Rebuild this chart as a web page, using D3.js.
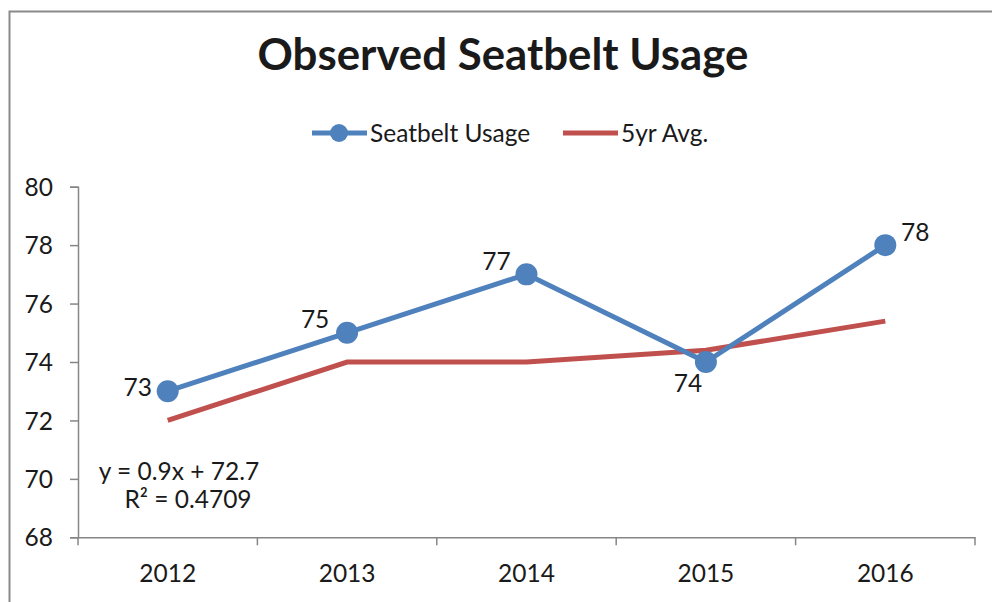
<!DOCTYPE html>
<html><head><meta charset="utf-8">
<script src="https://cdn.jsdelivr.net/npm/d3@7"></script>
<style>body{margin:0;background:#fff}svg{display:block}text{font-family:Lato,"Open Sans",sans-serif;fill:#1a1a1a}</style>
</head><body><svg id="c" width="992" height="602"></svg>
<script>
const categories = ["2012","2013","2014","2015","2016"];
const seatbelt = [73,75,77,74,78];
const avg5yr = [72,74,74,74.4,75.4];
const yTicks = [68,70,72,74,76,78,80];
const title = "Observed Seatbelt Usage";
const seriesNames = ["Seatbelt Usage","5yr Avg."];
const trendText = ["y = 0.9x + 72.7","R\u00B2 = 0.4709"];

const svg = d3.select("#c");
const blue = "#4F81BD", red = "#C0504D", axisCol = "#868686";
const L = 78, R = 975, T = 186.7, B = 537.3;
const FS = 24.5;

svg.append("rect").attr("x",9.5).attr("y",11.5).attr("width",1100).attr("height",800)
  .attr("fill","#fff").attr("stroke","#8a8a8a").attr("stroke-width",2);

function fit(sel, w){ let fs=parseFloat(sel.attr("font-size")); const cw=sel.node().getComputedTextLength(); sel.attr("font-size", fs*w/cw); }

const x = d3.scaleBand().domain(categories).range([L,R]);
const y = d3.scaleLinear().domain([68,80]).range([B,T]);

// title
const t = svg.append("text").attr("x",503).attr("y",70).attr("text-anchor","middle")
  .attr("font-size",40).attr("font-weight","bold").attr("fill","#000").text(title);
fit(t,491);

// axes
const ya = svg.append("g").attr("transform",`translate(${L},0)`)
  .call(d3.axisLeft(y).tickValues(yTicks).tickSize(8).tickPadding(17).tickFormat(d3.format("d")));
ya.select(".domain").attr("stroke",axisCol).attr("stroke-width",1.5);
ya.selectAll(".tick line").attr("stroke",axisCol).attr("stroke-width",1.5);
ya.selectAll("text").attr("font-size",FS).attr("font-family","Lato").attr("fill","#1a1a1a").attr("dy","0.35em");

const xa = svg.append("g").attr("transform",`translate(0,${B})`)
  .call(d3.axisBottom(x).tickSize(0).tickPadding(27));
xa.select(".domain").attr("stroke",axisCol).attr("stroke-width",1.5);
xa.selectAll("text").attr("font-size",FS).attr("font-family","Lato").attr("fill","#1a1a1a");
const bounds = categories.map(c=>x(c)).concat([R]);
svg.append("g").selectAll("line").data(bounds).join("line")
  .attr("x1",d=>d).attr("x2",d=>d).attr("y1",B).attr("y2",B+8)
  .attr("stroke",axisCol).attr("stroke-width",1.5);

const cx = c => x(c)+x.bandwidth()/2;
const line = d3.line().x((d,i)=>cx(categories[i])).y(d=>y(d));

svg.append("path").datum(avg5yr).attr("d",line).attr("fill","none")
  .attr("stroke",red).attr("stroke-width",5);
svg.append("path").datum(seatbelt).attr("d",line).attr("fill","none")
  .attr("stroke",blue).attr("stroke-width",5).attr("stroke-linejoin","round");
svg.append("g").selectAll("circle").data(seatbelt).join("circle")
  .attr("cx",(d,i)=>cx(categories[i])).attr("cy",d=>y(d)).attr("r",11).attr("fill",blue);

// data labels
const off = [[-30,-4],[-32,-13],[-30,-13],[-18,21],[30,-13]];
svg.append("g").selectAll("text").data(seatbelt).join("text")
  .attr("x",(d,i)=>cx(categories[i])+off[i][0]).attr("y",(d,i)=>y(d)+off[i][1])
  .attr("dy","0.35em").attr("text-anchor","middle").attr("font-size",FS).text(d=>d);

// trendline equation
svg.append("text").attr("x",179).attr("y",480).attr("text-anchor","middle").attr("font-size",FS).text(trendText[0]);
svg.append("text").attr("x",188).attr("y",508).attr("text-anchor","middle").attr("font-size",FS).text(trendText[1]);

// legend
const lg = svg.append("g");
lg.append("line").attr("x1",312).attr("x2",367).attr("y1",133).attr("y2",133).attr("stroke",blue).attr("stroke-width",5);
lg.append("circle").attr("cx",339).attr("cy",133).attr("r",9).attr("fill",blue);
lg.append("text").attr("x",370).attr("y",133).attr("dy","0.35em").attr("font-size",FS).text(seriesNames[0]);
lg.append("line").attr("x1",563).attr("x2",618).attr("y1",133).attr("y2",133).attr("stroke",red).attr("stroke-width",5);
lg.append("text").attr("x",621).attr("y",133).attr("dy","0.35em").attr("font-size",FS).text(seriesNames[1]);
</script></body></html>
